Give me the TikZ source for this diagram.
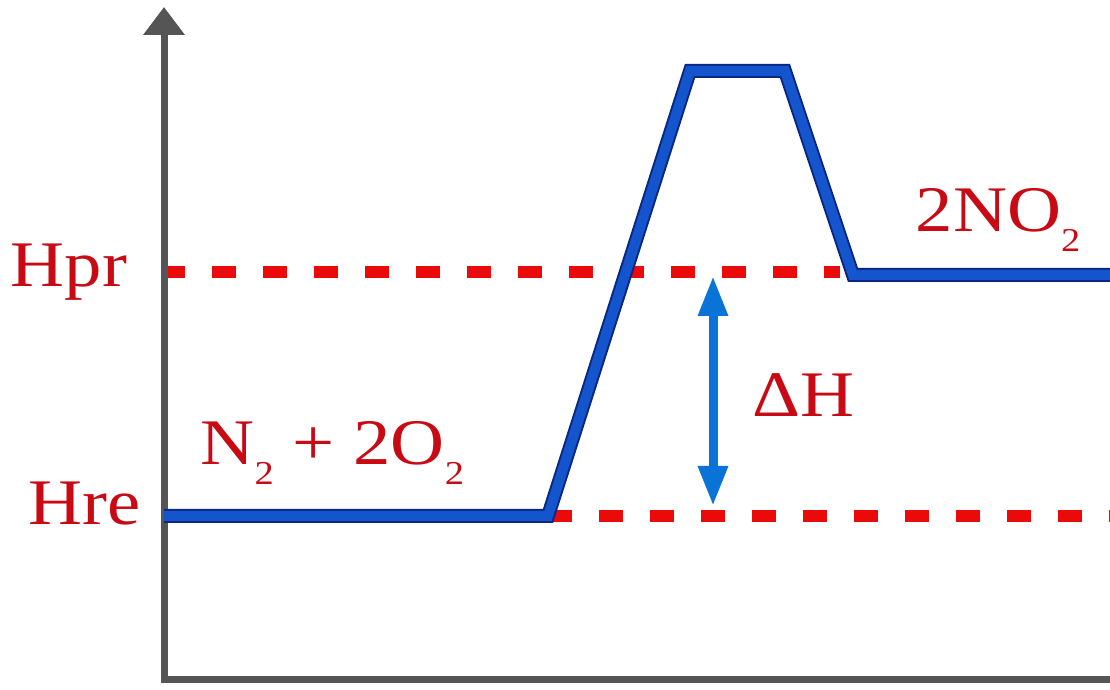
\documentclass[tikz,border=0pt]{standalone}
\usepackage{fontspec}
\setmainfont{Liberation Serif}
\usetikzlibrary{arrows.meta}

\definecolor{lvlred}{RGB}{200,10,20}
\definecolor{dashred}{RGB}{235,10,10}
\definecolor{pathblue}{RGB}{20,85,205}
\definecolor{pathedge}{RGB}{10,40,130}
\definecolor{arrblue}{RGB}{10,115,215}
\definecolor{axisgray}{RGB}{85,85,85}

\newcommand{\wide}[1]{\scalebox{1.15}[1]{#1}}
\newcommand{\lowsub}[1]{\raisebox{-5.5pt}{\fontsize{9.5}{11}\selectfont #1}}

\tikzset{
  lbl/.style={text=lvlred, font=\fontsize{18.5}{22}\selectfont, inner sep=0pt, anchor=base west},
  lvl/.style={dashred, line width=1.25mm, dash pattern=on 2.4mm off 2.7mm},
  energy/.style={preaction={draw=pathedge, line width=1.4mm}, pathblue, line width=1mm, line join=miter}
}

\begin{document}
\begin{tikzpicture}[x=0.1mm, y=-0.1mm]
        \useasboundingbox (0,0) rectangle (1110,690);
        % levels
        \draw[lvl] (161,272) -- (840,272);
        \draw[lvl] (548,516) -- (1110,516);
        % axes
        \draw[axisgray, line width=0.7mm, -{Triangle[length=2.8mm,width=4mm]}] (1110,680) -- (164,680) -- (164,7);
        % reaction path
        \coordinate (r0) at (164,516); \coordinate (r1) at (548,516);
        \coordinate (ts0) at (690,71); \coordinate (ts1) at (785,71);
        \coordinate (p0) at (853,275); \coordinate (p1) at (1110,275);
        \draw[energy] (r0) -- (r1) -- (ts0) -- (ts1) -- (p0) -- (p1);
        % enthalpy change
        \coordinate (dhtop) at (713,276); \coordinate (dhbot) at (713,506);
        \draw[arrblue, line width=0.9mm, {Triangle[length=4mm,width=2.8mm]}-{Triangle[length=4mm,width=2.8mm]}] (dhtop) -- (dhbot);
        % labels
        \node[lbl] (hpr) at (10,287) {\wide{Hpr}};
        \node[lbl] (hre) at (28,525) {\wide{Hre}};
        \node[lbl] (react) at (200,465) {\wide{N\lowsub{2} + 2O\lowsub{2}}};
        \node[lbl] (dh) at (752,417) {\wide{ΔH}};
        \node[lbl] (prod) at (915,232) {\wide{2NO\lowsub{2}}};
    \end{tikzpicture}
\end{document}
